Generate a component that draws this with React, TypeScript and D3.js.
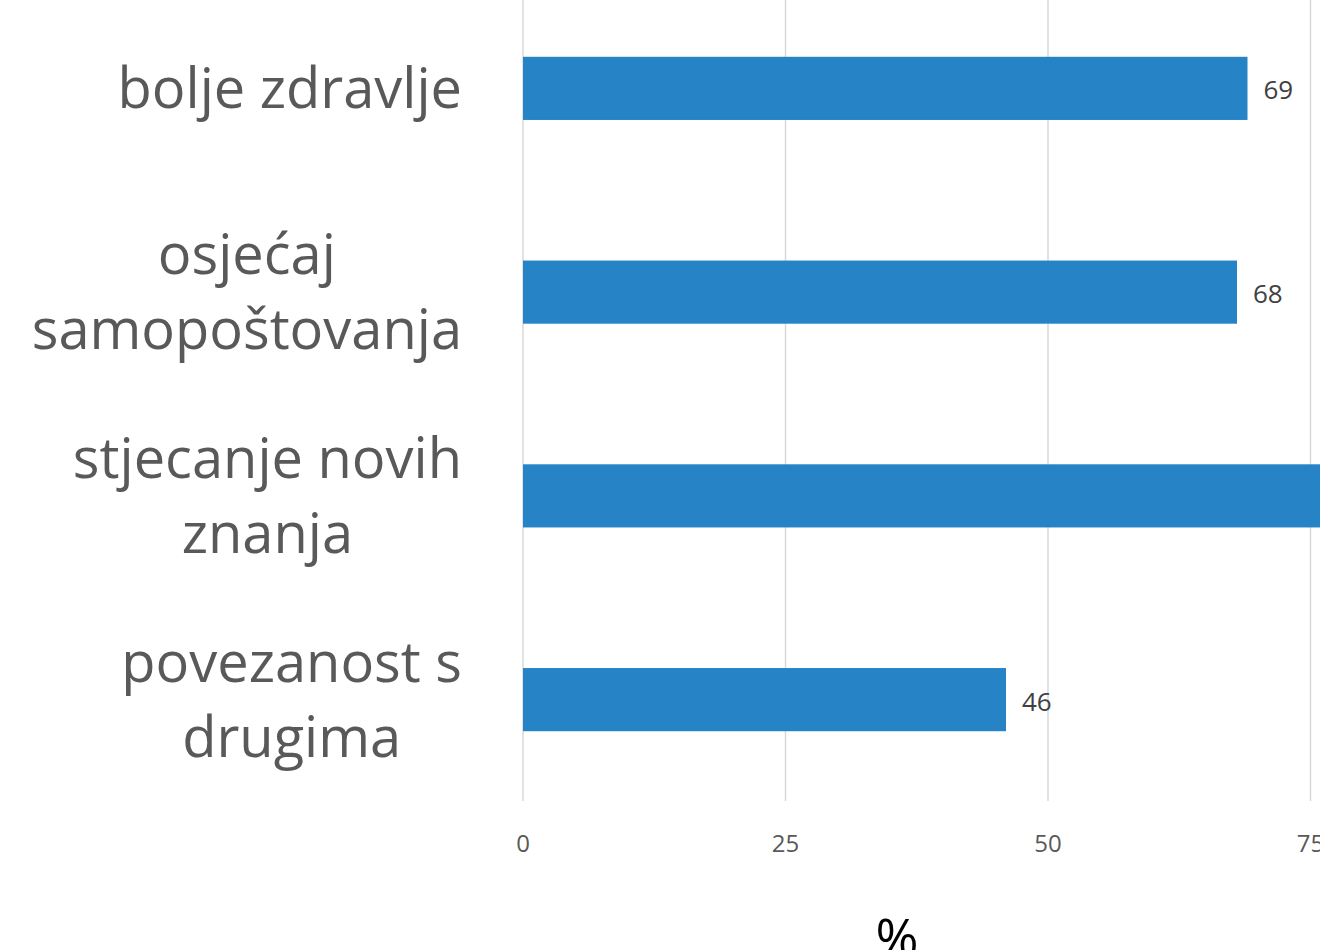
import React, { useEffect, useRef } from "react";
import * as d3 from "d3";

const categories = [
  ["bolje zdravlje"],
  ["osjećaj", "samopoštovanja"],
  ["stjecanje novih", "znanja"],
  ["povezanost s", "drugima"],
];
const values = [69, 68, 82, 46];
const ticks = [0, 25, 50, 75];

function App() {
  const svgRef = useRef<SVGSVGElement>(null);

  useEffect(() => {
    document.body.style.margin = "0";
    const width = 1320;
    const height = 950;
    const svg = d3.select(svgRef.current);
    svg.selectAll("*").remove();

    // x scale: 0 at 523, 25 per 262.5px
    const x = d3.scaleLinear().domain([0, 75]).range([523, 1310.5]);
    const y = d3
      .scaleBand<number>()
      .domain(d3.range(values.length))
      .range([-13.5, 801.5])
      .paddingInner(0.69)
      .paddingOuter(0.345);

    // gridlines
    svg
      .append("g")
      .selectAll("line")
      .data(ticks)
      .join("line")
      .attr("x1", (d) => x(d))
      .attr("x2", (d) => x(d))
      .attr("y1", 0)
      .attr("y2", 801)
      .attr("stroke", "#d9d9d9")
      .attr("stroke-width", 1.5);

    // tick labels
    svg
      .append("g")
      .selectAll("text")
      .data(ticks)
      .join("text")
      .attr("x", (d) => x(d))
      .attr("y", 852)
      .attr("text-anchor", "middle")
      .attr("font-family", "Open Sans, sans-serif")
      .attr("font-size", 24)
      .attr("fill", "#595959")
      .text((d) => d);

    // bars
    svg
      .append("g")
      .selectAll("rect")
      .data(values)
      .join("rect")
      .attr("x", x(0))
      .attr("y", (_, i) => y(i)!)
      .attr("width", (d) => x(d) - x(0))
      .attr("height", y.bandwidth())
      .attr("fill", "#2683c6");

    // value labels
    svg
      .append("g")
      .selectAll("text")
      .data(values)
      .join("text")
      .attr("x", (d) => x(d) + 16)
      .attr("y", (_, i) => y(i)! + y.bandwidth() / 2 + 2)
      .attr("dy", "0.35em")
      .attr("font-family", "Open Sans, sans-serif")
      .attr("font-size", 26)
      .attr("fill", "#404040")
      .text((d) => d);

    // category labels
    const lineHeight = 75;
    const catG = svg.append("g");
    categories.forEach((lines, i) => {
      const g = catG.append("g");
      const cy = y(i)! + y.bandwidth() / 2;
      const top = cy - ((lines.length - 1) * lineHeight) / 2;
      const texts = g
        .selectAll("text")
        .data(lines)
        .join("text")
        .attr("x", 0)
        .attr("y", (_, j) => top + j * lineHeight)
        .attr("dy", "0.35em")
        .attr("text-anchor", "middle")
        .attr("font-family", "Open Sans, sans-serif")
        .attr("font-size", 56)
        .attr("fill", "#595959")
        .text((d) => d);
      let maxW = 0;
      texts.each(function () {
        maxW = Math.max(maxW, (this as SVGTextElement).getComputedTextLength());
      });
      g.attr("transform", `translate(${462 - maxW / 2},0)`);
    });

    // axis title
    svg
      .append("text")
      .attr("x", 897)
      .attr("y", 956)
      .attr("text-anchor", "middle")
      .attr("font-family", "Open Sans, sans-serif")
      .attr("font-size", 52)
      .attr("fill", "#000000")
      .text("%");

    svg.attr("width", width).attr("height", height);
  }, []);

  return <svg ref={svgRef} width={1320} height={950} style={{ display: "block" }} />;
}

export default App;
